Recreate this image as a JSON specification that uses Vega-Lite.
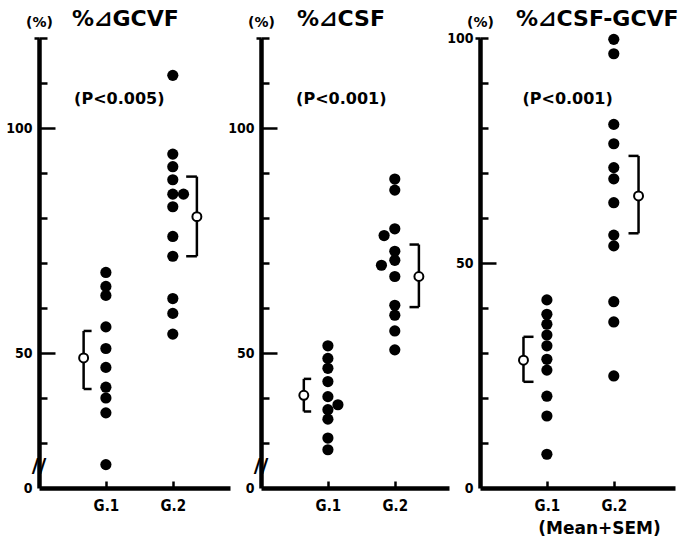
{
  "$schema": "https://vega.github.io/schema/vega-lite/v6.json",
  "background": "white",
  "padding": {"left": 5, "top": 8, "right": 5, "bottom": 5},
  "bounds": "flush",
  "spacing": 31,
  "datasets": {
    "b1": [{"mx": 0.667, "sx": 0.786, "lo": 42.0, "hi": 54.9, "mean": 48.9}, {"mx": 2.36, "sx": 2.20, "lo": 71.5, "hi": 89.2, "mean": 80.3}],
    "b2": [{"mx": 0.64, "sx": 0.75, "lo": 37.0, "hi": 44.25, "mean": 40.6}, {"mx": 2.36, "sx": 2.22, "lo": 60.2, "hi": 74.1, "mean": 67.0}],
    "b3": [{"mx": 0.65, "sx": 0.80, "lo": 23.6, "hi": 33.6, "mean": 28.4}, {"mx": 2.37, "sx": 2.22, "lo": 56.6, "hi": 73.8, "mean": 64.9}]
  },
  "config": {
    "view": {"stroke": null},
    "axis": {
      "grid": false,
      "domainColor": "black",
      "domainWidth": 4.5,
      "tickColor": "black",
      "tickWidth": 2.5,
      "labelColor": "black",
      "labelFont": "DejaVu Sans Condensed, Liberation Sans Narrow, DejaVu Sans",
      "labelFontWeight": "bold",
      "labelFontSize": 14,
      "titleColor": "black"
    },
    "title": {"font": "DejaVu Sans, Noto Sans CJK JP", "fontSize": 22, "fontWeight": "bold", "color": "black", "anchor": "start", "frame": "group"}
  },
  "hconcat": [
    {
      "width": 191,
      "height": 450,
      "title": {"text": "%⊿GCVF", "dx": 33, "offset": -16},
      "resolve": {"axis": {"x": "independent", "y": "independent"}},
      "layer": [
        {
          "data": {"values": [
            {"x": 1, "y": 67.9}, {"x": 1, "y": 64.8}, {"x": 1, "y": 62.8}, {"x": 1, "y": 55.8}, {"x": 1, "y": 51.0},
            {"x": 1, "y": 46.8}, {"x": 1, "y": 42.4}, {"x": 1, "y": 40.0}, {"x": 1, "y": 36.7}, {"x": 1, "y": 25.2},
            {"x": 2, "y": 111.7}, {"x": 2, "y": 94.2}, {"x": 2, "y": 91.4}, {"x": 2, "y": 88.5}, {"x": 2, "y": 85.3},
            {"x": 2.16, "y": 85.3}, {"x": 2, "y": 82.5}, {"x": 2, "y": 75.9}, {"x": 2, "y": 71.5}, {"x": 2, "y": 62.1},
            {"x": 2, "y": 58.8}, {"x": 2, "y": 54.2}
          ]},
          "mark": {"type": "circle", "size": 125, "color": "black", "opacity": 1},
          "encoding": {
            "x": {"field": "x", "type": "quantitative", "scale": {"domain": [0, 2.855], "nice": false, "zero": false},
              "axis": {"orient": "bottom", "values": [1, 2], "labelExpr": "datum.value == 1 ? 'G.1' : 'G.2'", "ticks": false, "labelPadding": 10, "labelFontSize": 15, "title": null}},
            "y": {"field": "y", "type": "quantitative", "scale": {"domain": [20, 120], "nice": false, "zero": false},
              "axis": {"orient": "left", "values": [20, 50, 100], "ticks": false,
                "labelExpr": "datum.value == 20 ? '0' : datum.label", "labelPadding": 7,
                "title": "(%)", "titleAngle": 0, "titleX": 0, "titleY": -16, "titleAlign": "center", "titleBaseline": "middle",
                "titleFont": "DejaVu Sans", "titleFontSize": 14, "titleFontWeight": "bold"}}
          }
        },
        {
          "data": {"name": "b1"},
          "mark": {"type": "rule", "strokeWidth": 2.5, "color": "black"},
          "encoding": {
            "x": {"field": "mx", "type": "quantitative", "axis": {"orient": "top", "offset": -450, "values": [1, 2], "domain": false, "labels": false, "ticks": true, "tickSize": 7, "title": null}},
            "y": {"field": "lo", "type": "quantitative", "axis": {"orient": "right", "offset": -191, "values": [30, 40, 60, 70, 80, 90, 110, 120], "domain": false, "labels": false, "ticks": true, "tickSize": 8, "title": null}},
            "y2": {"field": "hi"}}
        },
        {"data": {"name": "b1"}, "mark": {"type": "rule", "strokeWidth": 2.5, "color": "black"}, "encoding": {"x": {"field": "mx", "type": "quantitative", "axis": null}, "x2": {"field": "sx"}, "y": {"field": "hi", "type": "quantitative", "axis": null}}},
        {"data": {"name": "b1"}, "mark": {"type": "rule", "strokeWidth": 2.5, "color": "black"}, "encoding": {"x": {"field": "mx", "type": "quantitative", "axis": null}, "x2": {"field": "sx"}, "y": {"field": "lo", "type": "quantitative", "axis": null}}},
        {"data": {"name": "b1"}, "mark": {"type": "point", "shape": "circle", "filled": true, "fill": "white", "stroke": "black", "strokeWidth": 2, "size": 80, "opacity": 1},
          "encoding": {"x": {"field": "mx", "type": "quantitative", "axis": null},
            "y": {"field": "mean", "type": "quantitative", "axis": {"orient": "left", "values": [120], "domain": false, "labels": false, "ticks": true, "tickSize": 5, "title": null}}}},
        {
          "data": {"values": [{"x": 1.2, "y": 106.4, "t": "(P<0.005)"}]},
          "mark": {"type": "text", "font": "DejaVu Sans", "fontWeight": "bold", "fontSize": 16, "color": "black"},
          "encoding": {
            "x": {"field": "x", "type": "quantitative", "axis": null},
            "y": {"field": "y", "type": "quantitative", "axis": {"orient": "right", "offset": -191, "values": [50, 100], "domain": false, "labels": false, "ticks": true, "tickSize": 16, "title": null}},
            "text": {"field": "t"}}
        },
        {
          "data": {"values": [{"x": 0, "y": 24.8, "t": "//"}]},
          "mark": {"type": "text", "font": "DejaVu Sans", "fontWeight": "bold", "fontSize": 20, "color": "black"},
          "encoding": {"x": {"field": "x", "type": "quantitative", "axis": null}, "y": {"field": "y", "type": "quantitative", "axis": null}, "text": {"field": "t"}}
        }
      ]
    },
    {
      "width": 188,
      "height": 450,
      "title": {"text": "%⊿CSF", "dx": 36, "offset": -16},
      "resolve": {"axis": {"x": "independent", "y": "independent"}},
      "layer": [
        {
          "data": {"values": [
            {"x": 1, "y": 51.6}, {"x": 1, "y": 48.8}, {"x": 1, "y": 46.6}, {"x": 1, "y": 43.65}, {"x": 1, "y": 40.3},
            {"x": 1.15, "y": 38.5}, {"x": 1, "y": 37.4}, {"x": 1, "y": 35.3}, {"x": 1, "y": 31.1}, {"x": 1, "y": 28.5},
            {"x": 2, "y": 88.65}, {"x": 2, "y": 86.2}, {"x": 2, "y": 77.6}, {"x": 1.84, "y": 76.1}, {"x": 2, "y": 72.6},
            {"x": 2, "y": 70.6}, {"x": 1.8, "y": 69.5}, {"x": 2, "y": 67.0}, {"x": 2, "y": 60.6}, {"x": 2, "y": 58.4},
            {"x": 2, "y": 54.9}, {"x": 2, "y": 50.7}
          ]},
          "mark": {"type": "circle", "size": 125, "color": "black", "opacity": 1},
          "encoding": {
            "x": {"field": "x", "type": "quantitative", "scale": {"domain": [0, 2.81], "nice": false, "zero": false},
              "axis": {"orient": "bottom", "values": [1, 2], "labelExpr": "datum.value == 1 ? 'G.1' : 'G.2'", "ticks": false, "labelPadding": 10, "labelFontSize": 15, "title": null}},
            "y": {"field": "y", "type": "quantitative", "scale": {"domain": [20, 120], "nice": false, "zero": false},
              "axis": {"orient": "left", "values": [20, 50, 100], "ticks": false,
                "labelExpr": "datum.value == 20 ? '0' : datum.label", "labelPadding": 7,
                "title": "(%)", "titleAngle": 0, "titleX": 0, "titleY": -16, "titleAlign": "center", "titleBaseline": "middle",
                "titleFont": "DejaVu Sans", "titleFontSize": 14, "titleFontWeight": "bold"}}
          }
        },
        {
          "data": {"name": "b2"},
          "mark": {"type": "rule", "strokeWidth": 2.5, "color": "black"},
          "encoding": {
            "x": {"field": "mx", "type": "quantitative", "axis": {"orient": "top", "offset": -450, "values": [1, 2], "domain": false, "labels": false, "ticks": true, "tickSize": 7, "title": null}},
            "y": {"field": "lo", "type": "quantitative", "axis": {"orient": "right", "offset": -188, "values": [30, 40, 60, 70, 80, 90, 110, 120], "domain": false, "labels": false, "ticks": true, "tickSize": 8, "title": null}},
            "y2": {"field": "hi"}}
        },
        {"data": {"name": "b2"}, "mark": {"type": "rule", "strokeWidth": 2.5, "color": "black"}, "encoding": {"x": {"field": "mx", "type": "quantitative", "axis": null}, "x2": {"field": "sx"}, "y": {"field": "hi", "type": "quantitative", "axis": null}}},
        {"data": {"name": "b2"}, "mark": {"type": "rule", "strokeWidth": 2.5, "color": "black"}, "encoding": {"x": {"field": "mx", "type": "quantitative", "axis": null}, "x2": {"field": "sx"}, "y": {"field": "lo", "type": "quantitative", "axis": null}}},
        {"data": {"name": "b2"}, "mark": {"type": "point", "shape": "circle", "filled": true, "fill": "white", "stroke": "black", "strokeWidth": 2, "size": 80, "opacity": 1},
          "encoding": {"x": {"field": "mx", "type": "quantitative", "axis": null},
            "y": {"field": "mean", "type": "quantitative", "axis": {"orient": "left", "values": [120], "domain": false, "labels": false, "ticks": true, "tickSize": 5, "title": null}}}},
        {
          "data": {"values": [{"x": 1.2, "y": 106.4, "t": "(P<0.001)"}]},
          "mark": {"type": "text", "font": "DejaVu Sans", "fontWeight": "bold", "fontSize": 16, "color": "black"},
          "encoding": {
            "x": {"field": "x", "type": "quantitative", "axis": null},
            "y": {"field": "y", "type": "quantitative", "axis": {"orient": "right", "offset": -188, "values": [50, 100], "domain": false, "labels": false, "ticks": true, "tickSize": 16, "title": null}},
            "text": {"field": "t"}}
        },
        {
          "data": {"values": [{"x": 0, "y": 24.8, "t": "//"}]},
          "mark": {"type": "text", "font": "DejaVu Sans", "fontWeight": "bold", "fontSize": 20, "color": "black"},
          "encoding": {"x": {"field": "x", "type": "quantitative", "axis": null}, "y": {"field": "y", "type": "quantitative", "axis": null}, "text": {"field": "t"}}
        }
      ]
    },
    {
      "width": 195,
      "height": 450,
      "title": {"text": "%⊿CSF-GCVF", "dx": 36, "offset": -16},
      "resolve": {"axis": {"x": "independent", "y": "independent"}},
      "layer": [
        {
          "data": {"values": [
            {"x": 1, "y": 41.8}, {"x": 1, "y": 38.6}, {"x": 1, "y": 36.4}, {"x": 1, "y": 34.0}, {"x": 1, "y": 31.6},
            {"x": 1, "y": 28.6}, {"x": 1, "y": 26.2}, {"x": 1, "y": 20.4}, {"x": 1, "y": 16.0}, {"x": 1, "y": 7.5},
            {"x": 2, "y": 99.7}, {"x": 2, "y": 96.5}, {"x": 2, "y": 80.8}, {"x": 2, "y": 76.5}, {"x": 2, "y": 71.2},
            {"x": 2, "y": 68.7}, {"x": 2, "y": 63.4}, {"x": 2, "y": 56.2}, {"x": 2, "y": 53.8}, {"x": 2, "y": 41.4},
            {"x": 2, "y": 36.9}, {"x": 2, "y": 24.9}
          ]},
          "mark": {"type": "circle", "size": 125, "color": "black", "opacity": 1},
          "encoding": {
            "x": {"field": "x", "type": "quantitative", "scale": {"domain": [0, 2.915], "nice": false, "zero": false},
              "axis": {"orient": "bottom", "values": [1, 2], "labelExpr": "datum.value == 1 ? 'G.1' : 'G.2'", "ticks": false, "labelPadding": 10, "labelFontSize": 15,
                "title": "(Mean+SEM)", "titleX": 119, "titleFont": "DejaVu Sans", "titleFontSize": 17, "titleFontWeight": "bold", "titlePadding": 7}},
            "y": {"field": "y", "type": "quantitative", "scale": {"domain": [0, 100], "nice": false, "zero": false},
              "axis": {"orient": "left", "values": [0, 50, 100], "ticks": false, "labelPadding": 7,
                "title": "(%)", "titleAngle": 0, "titleX": 0, "titleY": -16, "titleAlign": "center", "titleBaseline": "middle",
                "titleFont": "DejaVu Sans", "titleFontSize": 14, "titleFontWeight": "bold"}}
          }
        },
        {
          "data": {"name": "b3"},
          "mark": {"type": "rule", "strokeWidth": 2.5, "color": "black"},
          "encoding": {
            "x": {"field": "mx", "type": "quantitative", "axis": {"orient": "top", "offset": -450, "values": [1, 2], "domain": false, "labels": false, "ticks": true, "tickSize": 7, "title": null}},
            "y": {"field": "lo", "type": "quantitative", "axis": {"orient": "right", "offset": -195, "values": [10, 20, 30, 40, 60, 70, 80, 90, 100], "domain": false, "labels": false, "ticks": true, "tickSize": 8, "title": null}},
            "y2": {"field": "hi"}}
        },
        {"data": {"name": "b3"}, "mark": {"type": "rule", "strokeWidth": 2.5, "color": "black"}, "encoding": {"x": {"field": "mx", "type": "quantitative", "axis": null}, "x2": {"field": "sx"}, "y": {"field": "hi", "type": "quantitative", "axis": null}}},
        {"data": {"name": "b3"}, "mark": {"type": "rule", "strokeWidth": 2.5, "color": "black"}, "encoding": {"x": {"field": "mx", "type": "quantitative", "axis": null}, "x2": {"field": "sx"}, "y": {"field": "lo", "type": "quantitative", "axis": null}}},
        {"data": {"name": "b3"}, "mark": {"type": "point", "shape": "circle", "filled": true, "fill": "white", "stroke": "black", "strokeWidth": 2, "size": 80, "opacity": 1},
          "encoding": {"x": {"field": "mx", "type": "quantitative", "axis": null},
            "y": {"field": "mean", "type": "quantitative", "axis": {"orient": "left", "values": [100], "domain": false, "labels": false, "ticks": true, "tickSize": 5, "title": null}}}},
        {
          "data": {"values": [{"x": 1.31, "y": 86.4, "t": "(P<0.001)"}]},
          "mark": {"type": "text", "font": "DejaVu Sans", "fontWeight": "bold", "fontSize": 16, "color": "black"},
          "encoding": {
            "x": {"field": "x", "type": "quantitative", "axis": null},
            "y": {"field": "y", "type": "quantitative", "axis": {"orient": "right", "offset": -195, "values": [50], "domain": false, "labels": false, "ticks": true, "tickSize": 16, "title": null}},
            "text": {"field": "t"}}
        }
      ]
    }
  ]
}
